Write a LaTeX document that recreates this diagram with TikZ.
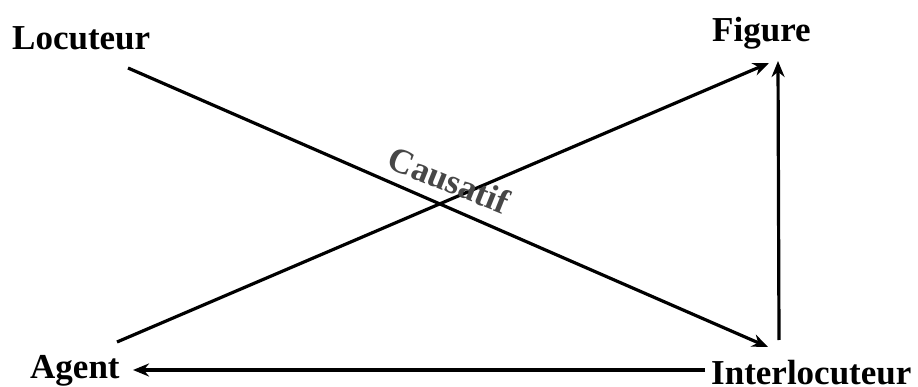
\documentclass[tikz,border=0pt]{standalone}
\usepackage{fontspec}
\setmainfont{Liberation Serif}
\usetikzlibrary{arrows.meta}
\tikzstyle{arrow} = [line width=3.2pt,-{Stealth[length=16pt,width=13pt]}]
\tikzstyle{role} = [inner sep=0pt, anchor=base west, font=\fontsize{35}{40}\selectfont\bfseries]
\tikzstyle{causlabel} = [inner sep=0pt, text=black!72, rotate=-22, font=\fontsize{35}{40}\selectfont\bfseries]

\begin{document}
\begin{tikzpicture}[x=1pt, y=-1pt]
\useasboundingbox (0,0) rectangle (918,387);

% Roles
\node (loc) [role] at (12,50) {Locuteur};
\node (fig) [role] at (712,42) {Figure};
\node (agent) [role] at (30,378) {Agent};
\node (inter) [role] at (711,384) {Interlocuteur};

% Connector ends
\coordinate (locout) at (128,68);
\coordinate (interin) at (768,347);
\coordinate (agentout) at (117,342);
\coordinate (figin) at (769,63);
\coordinate (interup) at (779,340);
\coordinate (figbottom) at (778,61);
\coordinate (interleft) at (705,370);
\coordinate (agentin) at (133,370);

% Connections
\draw [arrow] (locout) -- (interin);
\draw [arrow] (agentout) -- (figin);
\draw [arrow] (interup) -- (figbottom);
\draw [arrow] (interleft) -- (agentin);

% Label
\node (caus) [causlabel] at (449,180) {Causatif};

\end{tikzpicture}
\end{document}
